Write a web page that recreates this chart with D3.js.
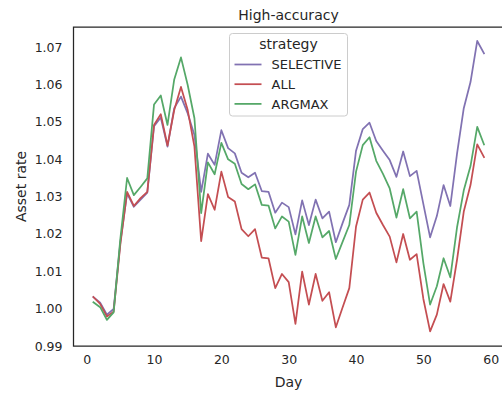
<!DOCTYPE html>
<html>
<head>
<meta charset="utf-8">
<script src="https://cdn.jsdelivr.net/npm/d3@7"></script>
<style>
  body { margin: 0; background: #fff; }
  svg { display: block; font-family: "DejaVu Sans", sans-serif; }
</style>
</head>
<body>
<div id="chart"></div>
<script>
// Data
const days = d3.range(1, 60);
const strategies = ["SELECTIVE", "ALL", "ARGMAX"];
const selective = [1.0031, 1.0016, 0.9984, 0.9999, 1.0178, 1.0309, 1.0273, 1.0292, 1.0311, 1.0489,
  1.0512, 1.0434, 1.0537, 1.0568, 1.0523, 1.0465, 1.0313, 1.0415, 1.0385, 1.0478,
  1.0430, 1.0416, 1.0364, 1.0352, 1.0364, 1.0315, 1.0313, 1.0257, 1.0284, 1.0272,
  1.0199, 1.0290, 1.0224, 1.0292, 1.0242, 1.0260, 1.0178, 1.0229, 1.0278, 1.0423,
  1.0481, 1.0498, 1.0449, 1.0423, 1.0398, 1.0353, 1.0421, 1.0355, 1.0369, 1.0280,
  1.0191, 1.0248, 1.0331, 1.0275, 1.0415, 1.0537, 1.0607, 1.0717, 1.0684];
const all = [1.0031, 1.0013, 0.9979, 0.9992, 1.0173, 1.0313, 1.0275, 1.0296, 1.0313, 1.0492,
  1.0521, 1.0437, 1.0532, 1.0594, 1.0532, 1.0434, 1.0181, 1.0307, 1.0265, 1.0367,
  1.0299, 1.0287, 1.0213, 1.0194, 1.0213, 1.0137, 1.0135, 1.0055, 1.0093, 1.0071,
  0.9959, 1.0099, 1.0011, 1.0093, 1.0021, 1.0044, 0.9950, 1.0003, 1.0055, 1.0220,
  1.0292, 1.0311, 1.0257, 1.0224, 1.0193, 1.0124, 1.0200, 1.0131, 1.0146, 1.0026,
  0.9939, 0.9984, 1.0066, 1.0019, 1.0131, 1.0260, 1.0331, 1.0440, 1.0406];
const argmax = [1.0017, 1.0004, 0.9970, 0.9990, 1.0188, 1.0350, 1.0304, 1.0326, 1.0349, 1.0547,
  1.0571, 1.0492, 1.0614, 1.0673, 1.0599, 1.0510, 1.0256, 1.0392, 1.0360, 1.0444,
  1.0400, 1.0388, 1.0334, 1.0320, 1.0333, 1.0278, 1.0276, 1.0215, 1.0247, 1.0233,
  1.0144, 1.0247, 1.0176, 1.0247, 1.0191, 1.0208, 1.0133, 1.0179, 1.0224, 1.0367,
  1.0438, 1.0459, 1.0396, 1.0361, 1.0322, 1.0244, 1.0320, 1.0242, 1.0260, 1.0122,
  1.0011, 1.0060, 1.0135, 1.0084, 1.0218, 1.0317, 1.0382, 1.0487, 1.0440];
const xTicks = [0, 10, 20, 30, 40, 50, 60];
const yTicks = [0.99, 1.00, 1.01, 1.02, 1.03, 1.04, 1.05, 1.06, 1.07];

const seriesValues = [selective, all, argmax];
const colors = ["#8172b2", "#c44e52", "#55a868"];
const textColor = "#262626";

const W = 502, H = 394;
const plot = {left: 73.5, right: 503.5, top: 27, bottom: 346};

const svg = d3.select("#chart").append("svg")
  .attr("width", W)
  .attr("height", H);

// SCALES
const xScale = d3.scaleLinear().domain([-1.96, 61.9]).range([plot.left, plot.right]);
const yScale = d3.scaleLinear().domain([0.99, 1.07544]).range([plot.bottom, plot.top]);

// AXES (seaborn white style: no tick marks)
const xAxis = d3.axisBottom(xScale).tickValues(xTicks).tickSize(0).tickPadding(9)
  .tickFormat(d3.format("d"));
const yAxis = d3.axisLeft(yScale).tickValues(yTicks).tickSize(0).tickPadding(11)
  .tickFormat(d3.format(".2f"));

const gx = svg.append("g")
  .attr("transform", "translate(0," + plot.bottom + ")")
  .call(xAxis);
const gy = svg.append("g")
  .attr("transform", "translate(" + plot.left + ",0)")
  .call(yAxis);
[gx, gy].forEach(g => {
  g.select(".domain").remove();
  g.selectAll("text")
    .attr("fill", textColor)
    .style("font-size", "12.5px")
    .style("font-family", "DejaVu Sans");
});

// LINES
const line = d3.line()
  .x((d, i) => xScale(days[i]))
  .y(d => yScale(d));

svg.append("g")
  .selectAll("path")
  .data(seriesValues)
  .enter().append("path")
  .attr("d", d => line(d))
  .attr("fill", "none")
  .attr("stroke", (d, i) => colors[i])
  .attr("stroke-width", 1.75)
  .attr("stroke-linejoin", "round")
  .attr("stroke-linecap", "square");

// SPINES
svg.append("path")
  .attr("d", "M" + plot.right + "," + plot.top + "H" + plot.left + "V" + plot.bottom + "H" + plot.right)
  .attr("fill", "none")
  .attr("stroke", textColor)
  .attr("stroke-width", 1.25);

// LABELS
svg.append("text")
  .attr("x", (plot.left + plot.right) / 2)
  .attr("y", 19.5)
  .attr("text-anchor", "middle")
  .attr("fill", textColor)
  .style("font-size", "14px")
  .text("High-accuracy");

svg.append("text")
  .attr("x", (plot.left + plot.right) / 2)
  .attr("y", 387)
  .attr("text-anchor", "middle")
  .attr("fill", textColor)
  .style("font-size", "14px")
  .text("Day");

svg.append("text")
  .attr("transform", "translate(25.5," + (plot.top + plot.bottom) / 2 + ") rotate(-90)")
  .attr("text-anchor", "middle")
  .attr("fill", textColor)
  .style("font-size", "14px")
  .text("Asset rate");

// LEGEND
const legend = svg.append("g").attr("transform", "translate(229.5,33.5)");
legend.append("rect")
  .attr("width", 118)
  .attr("height", 82.5)
  .attr("rx", 3)
  .attr("fill", "#fff")
  .attr("fill-opacity", 0.8)
  .attr("stroke", "#cccccc")
  .attr("stroke-width", 1);
legend.append("text")
  .attr("x", 59)
  .attr("y", 15.3)
  .attr("text-anchor", "middle")
  .attr("fill", textColor)
  .style("font-size", "14px")
  .text("strategy");

const items = legend.selectAll(".item")
  .data(strategies)
  .enter().append("g")
  .attr("class", "item")
  .attr("transform", (d, i) => "translate(0," + (31 + i * 19.7) + ")");
items.append("line")
  .attr("x1", 5).attr("x2", 32)
  .attr("stroke", (d, i) => colors[i])
  .attr("stroke-width", 1.75);
items.append("text")
  .attr("x", 42)
  .attr("y", 4.8)
  .attr("fill", textColor)
  .style("font-size", "13px")
  .text(d => d);
</script>
</body>
</html>
